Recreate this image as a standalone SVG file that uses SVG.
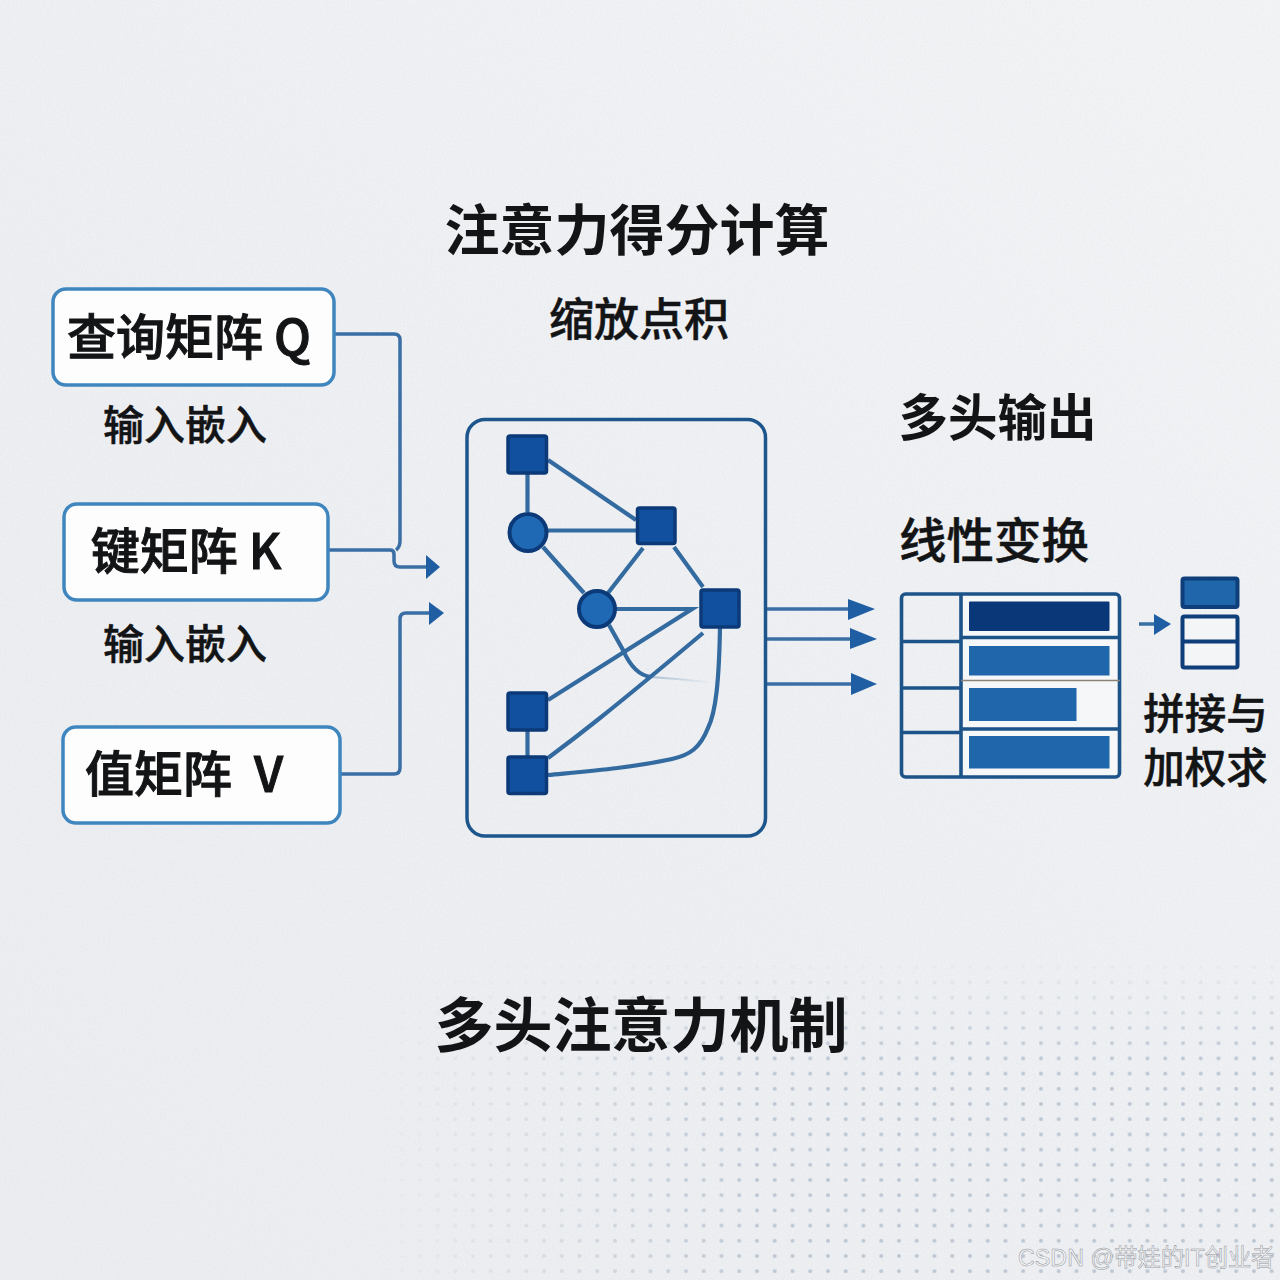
<svg xmlns="http://www.w3.org/2000/svg" width="1280" height="1280" viewBox="0 0 1280 1280">
<style>
text{font-family:"Noto Sans CJK SC","Noto Sans",sans-serif;fill:#131416}
.h{font-weight:700}
.m{font-weight:500;stroke:#131416;stroke-width:.5}
.b{font-weight:500;stroke:#131416;stroke-width:1}
.box{fill:#fdfdfe;stroke:#3f86bf;stroke-width:3.500}
.conn{fill:none;stroke:#3a6fa6;stroke-width:3.500;stroke-linejoin:round}
.edge{fill:none;stroke:#336a9f;stroke-width:4.200;stroke-linecap:butt}
.sq{fill:#11509f;stroke:#0c3a78;stroke-width:3.500}
.ci{fill:#1f69b4;stroke:#0c3a78;stroke-width:4}
.head{fill:#1f5ea3}
.tb{fill:none;stroke:#1c5489;stroke-width:3.600}
.bar{fill:#1f66aa}
</style>
<defs>
<linearGradient id="bg" x1="0" y1="1" x2="1" y2="0"><stop offset="0" stop-color="#ebedf0"/><stop offset=".5" stop-color="#eef0f3"/><stop offset="1" stop-color="#f3f4f6"/></linearGradient>
<filter id="grain" x="0" y="0" width="100%" height="100%"><feTurbulence type="fractalNoise" baseFrequency=".55" numOctaves="2" seed="4"/><feColorMatrix values="0 0 0 0 .55  0 0 0 0 .58  0 0 0 0 .62  0 0 0 .45 -.15"/></filter>
<pattern id="dots" patternUnits="userSpaceOnUse" x="961.1" y="1096.4" width="17.75" height="15.2"><circle cx="8.87" cy="7.6" r="2" fill="#bcc6d2"/></pattern>
<linearGradient id="fx" gradientUnits="userSpaceOnUse" x1="375" y1="0" x2="760" y2="0"><stop offset="0" stop-color="#fff" stop-opacity="0"/><stop offset="1" stop-color="#fff"/></linearGradient>
<linearGradient id="fy" gradientUnits="userSpaceOnUse" x1="0" y1="955" x2="0" y2="1060"><stop offset="0" stop-color="#fff" stop-opacity="0"/><stop offset="1" stop-color="#fff"/></linearGradient>
<mask id="mx" maskUnits="userSpaceOnUse" x="0" y="0" width="1280" height="1280"><rect x="375" y="955" width="905" height="325" fill="url(#fx)"/></mask>
<mask id="my" maskUnits="userSpaceOnUse" x="0" y="0" width="1280" height="1280"><rect x="375" y="955" width="905" height="325" fill="url(#fy)"/></mask>
<linearGradient id="fade" gradientUnits="userSpaceOnUse" x1="650" y1="677" x2="708" y2="682"><stop offset="0" stop-color="#336a9f" stop-opacity=".35"/><stop offset="1" stop-color="#336a9f" stop-opacity=".03"/></linearGradient>
</defs>
<rect width="1280" height="1280" fill="url(#bg)"/>
<rect width="1280" height="1280" filter="url(#grain)" opacity=".5"/>
<g mask="url(#my)"><rect x="375" y="955" width="905" height="325" fill="url(#dots)" mask="url(#mx)"/></g>

<g id="title-score"><text class="h" x="637" y="250" font-size="55" text-anchor="middle">注意力得分计算</text></g>
<g id="label-scaled"><text class="m" x="639" y="336" font-size="45" text-anchor="middle">缩放点积</text></g>
<g id="title-output"><text class="h" x="997.500" y="436" font-size="49.500" text-anchor="middle">多头输出</text></g>
<g id="label-linear"><text class="m" x="994" y="558" font-size="47.500" text-anchor="middle">线性变换</text></g>
<g id="label-concat"><text class="m" font-size="41.500" text-anchor="middle"><tspan x="1205.500" y="729">拼接与</tspan><tspan x="1205.500" y="783">加权求</tspan></text></g>
<g id="title-main"><text class="h" x="641" y="1047" font-size="59" text-anchor="middle">多头注意力机制</text></g>
<g id="label-embed-1"><text class="m" x="185" y="440" font-size="41" text-anchor="middle">输入嵌入</text></g>
<g id="label-embed-2"><text class="m" x="185" y="659" font-size="41" text-anchor="middle">输入嵌入</text></g>

<g id="connectors">
<path class="conn" d="M335 334H394Q400 334 400 340V541Q400 547 396 550"/>
<path class="conn" d="M328 550H390Q394 550 394 554V561Q394 567 400 567H428"/>
<path class="conn" d="M340 774H394Q400 774 400 768V619Q400 613 406 613H431"/>
<polygon class="head" points="426,555 440,567 426,579"/>
<polygon class="head" points="429,602 444,613 429,625"/>
<path class="edge" d="M527.500 474V512"/>
<path class="edge" d="M548 460L636 520"/>
<path class="edge" d="M548 530.500H636"/>
<path class="edge" d="M543 547L584 593"/>
<path class="edge" d="M608 593L643 548"/>
<path class="edge" d="M674 547L703 587"/>
<path class="edge" d="M616 609H692L548 700"/>
<path class="edge" d="M703 633Q640 686 600 718Q575 738 548 758"/>
<path class="edge" d="M609 625L623 650Q634 675 651 677"/>
<path fill="none" stroke="url(#fade)" stroke-width="2" d="M651 677Q680 679 708 682"/>
<path class="edge" d="M720 628C719 680 716 712 708 728C700 748 690 755 672 759C630 768 590 771 548 775"/>
<path class="edge" d="M527.500 731V756"/>
<path class="conn" d="M766 609H850M766 639H852M766 684H852"/>
<polygon class="head" points="848,599 875,609 848,620"/>
<polygon class="head" points="850,628 877,639 850,649"/>
<polygon class="head" points="851,673 877,684 851,695"/>
<path class="conn" d="M1139 624H1156"/>
<polygon class="head" points="1154,614 1171,624 1154,635"/>
</g>

<g id="node-q"><rect class="box" x="53" y="289" width="281" height="96" rx="13"/><text class="b" x="189" y="355" font-size="49" text-anchor="middle" xml:space="preserve">查询矩阵 Q</text></g>
<g id="node-k"><rect class="box" x="64" y="504" width="264" height="96" rx="13"/><text class="b" x="186" y="569" font-size="49" text-anchor="middle" xml:space="preserve">键矩阵 K</text></g>
<g id="node-v"><rect class="box" x="63" y="727" width="277" height="96" rx="13"/><text class="b" x="184" y="792" font-size="49" text-anchor="middle" xml:space="preserve">值矩阵  V</text></g>

<g id="panel"><rect x="467" y="419.500" width="298.500" height="416.500" rx="18" fill="none" stroke="#1d568c" stroke-width="3.500"/></g>
<g id="n1"><rect class="sq" x="508" y="436" width="38.500" height="37" rx="2"/></g>
<g id="n2"><rect class="sq" x="637.500" y="508" width="37.500" height="35.500" rx="2"/></g>
<g id="n3"><circle class="ci" cx="528" cy="532.500" r="18.500"/></g>
<g id="n4"><circle class="ci" cx="597" cy="609" r="18"/></g>
<g id="n5"><rect class="sq" x="701" y="590" width="38" height="37" rx="2"/></g>
<g id="n6"><rect class="sq" x="508" y="693" width="38.500" height="37" rx="2"/></g>
<g id="n7"><rect class="sq" x="508" y="757" width="38.500" height="36.500" rx="2"/></g>

<g id="table">
<rect x="961" y="594" width="159" height="183" fill="#f6f7f9"/>
<rect class="tb" x="901.500" y="594" width="218" height="183" rx="4"/>
<path class="tb" d="M961 594V777M902 641.500H961M902 688H961M902 732.500H961M961 637.500H1120M961 729H1120"/>
<path d="M961 680.500H1120" stroke="#8c8378" stroke-width="1.500" fill="none"/>
<rect x="969" y="601.500" width="140.500" height="29.500" rx="1" fill="#0a3778"/>
<rect class="bar" x="969" y="646" width="140.500" height="29.500"/>
<rect class="bar" x="969" y="688" width="107.500" height="33"/>
<rect class="bar" x="969" y="736" width="140.500" height="32.500"/>
</g>
<g id="stack">
<rect x="1182.500" y="578.500" width="55" height="28.500" rx="2" fill="#1f66aa" stroke="#0f3f7a" stroke-width="4"/>
<rect x="1182.500" y="616.500" width="55" height="51" rx="2" fill="#f4f5f7" stroke="#0f3f7a" stroke-width="4"/>
<path d="M1182 641.500H1238" stroke="#0f3f7a" stroke-width="4" fill="none"/>
</g>
<g id="watermark"><text x="1018" y="1266" font-size="23.300" style="fill:#f5f6f8;stroke:#8f9399;stroke-width:.5;font-family:'Liberation Sans','Noto Sans CJK SC',sans-serif">CSDN @带娃的IT创业者</text></g>
</svg>
